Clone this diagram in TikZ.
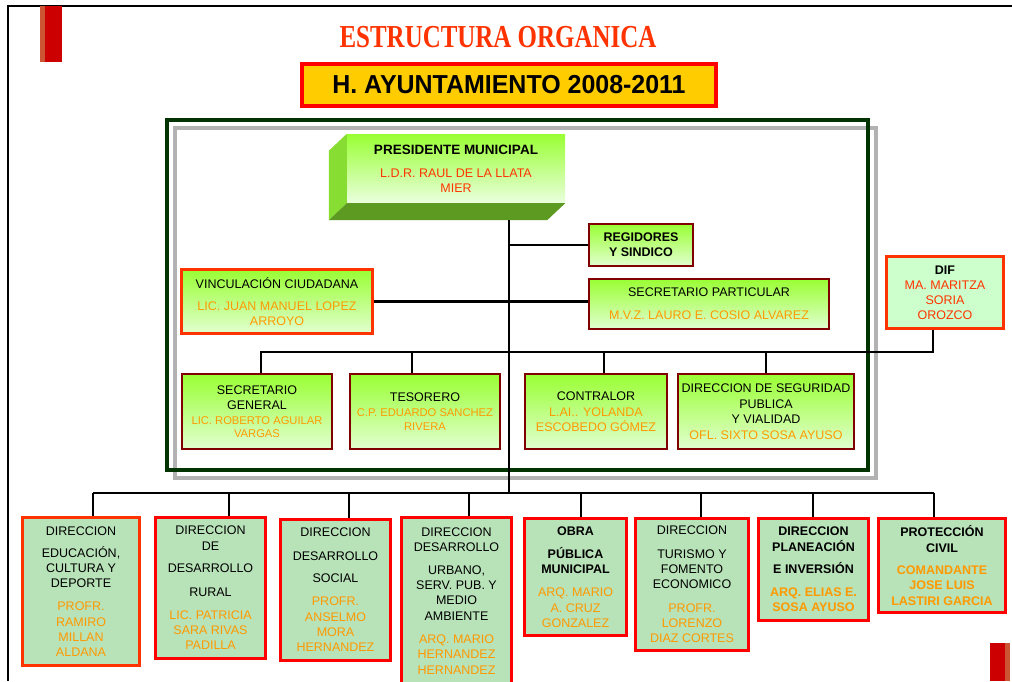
\documentclass[tikz,border=0pt]{standalone}
\usepackage{fontspec}
\setmainfont{Liberation Sans}
\newfontfamily\titlefont{Liberation Serif}

\definecolor{titlered}{HTML}{FF3300}
\definecolor{namered}{HTML}{FF3300}
\definecolor{nameor}{HTML}{FF9900}
\definecolor{maroonb}{HTML}{800000}
\definecolor{boxred}{HTML}{FF0000}
\definecolor{limetop}{HTML}{99FF33}
\definecolor{limebot}{HTML}{E2FFD0}
\definecolor{dirfill}{HTML}{B8E2B8}
\definecolor{diffill}{HTML}{CCFFCC}
\definecolor{framegreen}{HTML}{003300}
\definecolor{framegray}{HTML}{B2B2B2}
\definecolor{barred}{HTML}{CC0000}
\definecolor{barlight}{HTML}{CC5533}
\definecolor{goldfill}{HTML}{FFCC00}
\definecolor{presside}{HTML}{88DD33}
\definecolor{presbottom}{HTML}{5C9A22}

\newcommand{\boxfont}{\fontsize{12.5}{15}\selectfont}
\newcommand{\dirfont}{\fontsize{12.5}{15.3}\selectfont}
\newcommand{\orname}[1]{\textcolor{nameor}{#1}}
\newcommand{\redname}[1]{\textcolor{namered}{#1}}
\newcommand{\smname}[1]{{\fontsize{11.2}{13}\selectfont\color{nameor}#1}}

\begin{document}
\begin{tikzpicture}[x=1pt,y=-1pt,
    inbox/.style={draw=maroonb, line width=2.5pt, top color=limetop, bottom color=limebot,
      align=center, font=\boxfont, inner sep=0pt},
    outbox/.style={draw=boxred, line width=3pt, fill=dirfill, align=center, font=\dirfont, inner sep=0pt},
    link/.style={line width=2.5pt}]

  \useasboundingbox (0,0) rectangle (1012,681);
  \clip (0,0) rectangle (1012,681);

  % Page frame and red bars
  \draw[line width=2.5pt] (8,681) -- (8,6) -- (1012,6);
  \fill[barlight] (40,6) rectangle (45,62);
  \fill[barred] (45,6) rectangle (62,62);
  \fill[barred] (990,643) rectangle (1005,681);
  \fill[barlight] (1005,643) rectangle (1010,681);

  % Titles
  \node[text=titlered, font=\titlefont\bfseries\fontsize{32}{32}\selectfont] (title) at (498,37)
    {\scalebox{0.78}[1]{ESTRUCTURA ORGANICA}};
  \node[draw=boxred, line width=4pt, fill=goldfill, minimum width=414pt, minimum height=42pt,
    font=\fontsize{26}{26}\selectfont\bfseries] (ayto) at (509,85)
    {\scalebox{0.96}[1]{H. AYUNTAMIENTO 2008-2011}};

  % Frames
  \draw[framegray, line width=4pt] (175,128) rectangle (876,478);
  \draw[framegreen, line width=4pt] (167,120) rectangle (868,470);

  % President (3d block)
  \node[top color=limetop, bottom color=limebot!70!white, minimum width=218pt, minimum height=69pt,
    align=center, font=\boxfont, inner sep=0pt] (pres) at (456,168.5)
    {{\fontsize{13.5}{15}\selectfont\bfseries PRESIDENTE MUNICIPAL}\\[8pt]
     \redname{L.D.R. RAUL DE LA LLATA}\\ \redname{MIER}};
  \fill[presside] (pres.north west) -- ++(-18,17) -- ([shift={(-18,17)}]pres.south west)
    -- (pres.south west) -- cycle;
  \fill[presbottom] (pres.south west) -- ++(-18,17) -- ([shift={(-18,17)}]pres.south east)
    -- (pres.south east) -- cycle;
  \coordinate (trunk top) at (509,220);
  \coordinate (trunk bot) at (509,494);

  % Staff boxes
  \node[inbox, minimum width=104pt, minimum height=42pt, font=\boxfont\bfseries] (regid) at (641,245)
    {REGIDORES\\Y SINDICO};
  \node[inbox, minimum width=240pt, minimum height=50pt] (secpart) at (709,304)
    {SECRETARIO PARTICULAR\\[8pt] \orname{M.V.Z. LAURO E. COSIO ALVAREZ}};
  \node[inbox, draw=namered, line width=3pt, minimum width=191pt, minimum height=64pt] (vinc) at (277,301.5)
    {VINCULACIÓN CIUDADANA\\[7pt] \orname{LIC. JUAN MANUEL LOPEZ}\\ \orname{ARROYO}};
  \node[draw=namered, line width=3pt, fill=diffill, minimum width=117pt, minimum height=72pt,
    align=center, font=\boxfont, inner sep=0pt] (dif) at (945,292.5)
    {\textbf{DIF}\\ \redname{MA. MARITZA}\\ \redname{SORIA}\\ \redname{OROZCO}};

  % Secretaries row
  \node[inbox, minimum width=150pt, minimum height=75pt] (secgen) at (257,411.5)
    {SECRETARIO\\GENERAL\\ \smname{LIC. ROBERTO AGUILAR}\\[-2pt] \smname{VARGAS}};
  \node[inbox, minimum width=150pt, minimum height=75pt] (tesor) at (425,411.5)
    {TESORERO\\ \smname{C.P. EDUARDO SANCHEZ}\\[-1pt] \smname{RIVERA}};
  \node[inbox, minimum width=142pt, minimum height=75pt] (contral) at (596,411.5)
    {CONTRALOR\\[1pt] \orname{L.AI.. YOLANDA}\\ \orname{ESCOBEDO GÓMEZ}};
  \node[inbox, minimum width=176pt, minimum height=75pt] (segur) at (766,411.5)
    {DIRECCION DE SEGURIDAD\\[0.5pt] PUBLICA\\[0.5pt] Y VIALIDAD\\[0.5pt] \orname{OFL. SIXTO SOSA AYUSO}};

  % Direcciones row
  \node[outbox, draw=namered, minimum width=117pt, minimum height=148pt] (dir1) at (81,591.5)
    {DIRECCION\\[7pt] EDUCACIÓN,\\ CULTURA Y\\ DEPORTE\\[7.5pt] \orname{PROFR.}\\ \orname{RAMIRO}\\
     \orname{MILLAN}\\ \orname{ALDANA}};
  \node[outbox, minimum width=110pt, minimum height=141pt] (dir2) at (210.5,588)
    {DIRECCION\\ DE\\[7pt] DESARROLLO\\[9pt] RURAL\\[7pt] \orname{LIC. PATRICIA}\\ \orname{SARA RIVAS}\\
     \orname{PADILLA}};
  \node[outbox, minimum width=110pt, minimum height=141pt] (dir3) at (335.5,590)
    {DIRECCION\\[8pt] DESARROLLO\\[7pt] SOCIAL\\[8pt] \orname{PROFR.}\\ \orname{ANSELMO}\\ \orname{MORA}\\
     \orname{HERNANDEZ}};
  \node[outbox, minimum width=110pt, minimum height=167pt] (dir4) at (456.5,601)
    {DIRECCION\\ DESARROLLO\\[7pt] URBANO,\\ SERV. PUB. Y\\ MEDIO\\ AMBIENTE\\[8pt] \orname{ARQ. MARIO}\\
     \orname{HERNANDEZ}\\ \orname{HERNANDEZ}};
  \node[outbox, minimum width=102pt, minimum height=117pt] (dir5) at (575.5,577)
    {\textbf{OBRA}\\[8pt] \textbf{PÚBLICA}\\ \textbf{MUNICIPAL}\\[8pt] \orname{ARQ. MARIO}\\ \orname{A. CRUZ}\\
     \orname{GONZALEZ}};
  \node[outbox, minimum width=113pt, minimum height=132pt] (dir6) at (692,584.5)
    {DIRECCION\\[8pt] TURISMO Y\\ FOMENTO\\ ECONOMICO\\[8pt] \orname{PROFR.}\\ \orname{LORENZO}\\
     \orname{DIAZ CORTES}};
  \node[outbox, font=\dirfont\bfseries, minimum width=110pt, minimum height=102pt] (dir7) at (813.5,569.5)
    {DIRECCION\\ PLANEACIÓN\\[7pt] E INVERSIÓN\\[8pt] \orname{ARQ. ELIAS E.}\\ \orname{SOSA AYUSO}};
  \node[outbox, font=\dirfont\bfseries, minimum width=127pt, minimum height=94pt] (dir8) at (942,565.5)
    {PROTECCIÓN\\ CIVIL\\[7pt] \orname{COMANDANTE}\\ \orname{JOSE LUIS}\\ \orname{LASTIRI GARCIA}};

  % Connectors
  \draw[link] (trunk top) -- (trunk bot);
  \draw[link] (trunk top |- regid.west) -- (regid.west);
  \draw[link] (vinc.east) -- (vinc.east -| secpart.west);

  \coordinate (midbus w) at (261,352);
  \coordinate (midbus e) at (933,352);
  \draw[link] (dif.south -| midbus e) -- (midbus e) -- (midbus w) -- (midbus w |- secgen.north);
  \foreach \bx/\px in {tesor/412, contral/604, segur/766} {
    \coordinate (m-\bx) at (\px,352);
    \draw[link] (m-\bx) -- (m-\bx |- \bx.north);
  }

  \draw[link] (93,493) coordinate (bus w) -- (934,493) coordinate (bus e);
  \foreach \i/\px in {1/93, 2/229, 3/349, 4/469, 5/581, 6/701, 7/813, 8/934} {
    \coordinate (d\i) at (\px,493);
    \draw[link] (d\i) -- (d\i |- dir\i.north);
  }
\end{tikzpicture}
\end{document}
